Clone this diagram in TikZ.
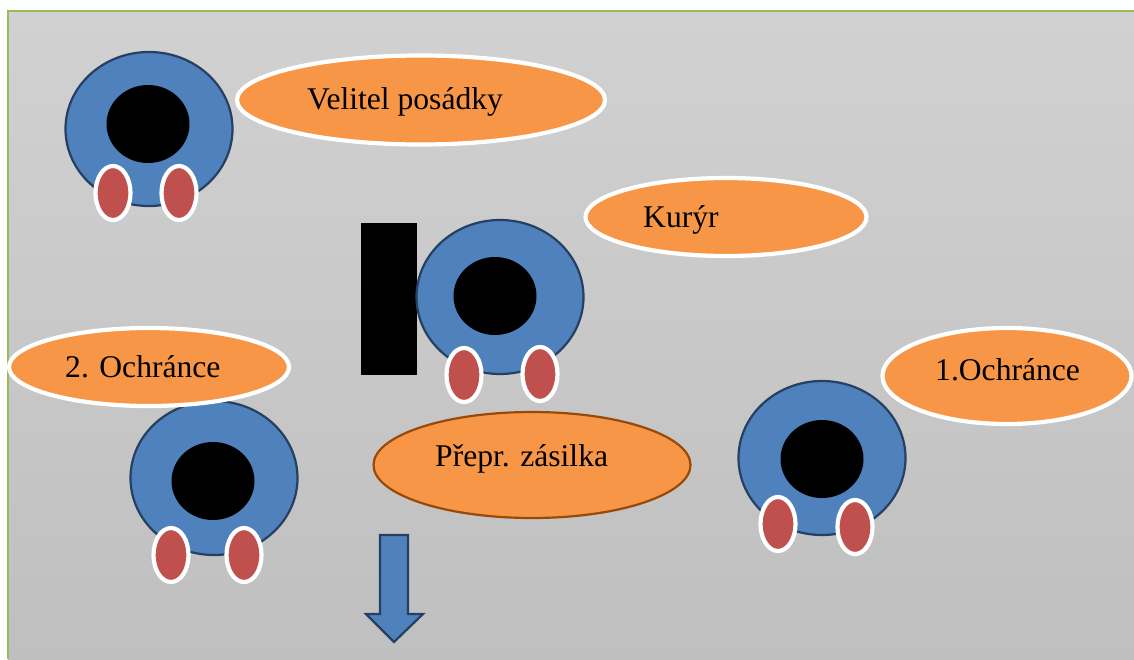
\documentclass[tikz,border=0pt]{standalone}
\usepackage{fontspec}
\setmainfont{Liberation Serif}
\usetikzlibrary{shapes.geometric}
\definecolor{headblue}{HTML}{4F81BD}
\definecolor{headline}{HTML}{254061}
\definecolor{handred}{HTML}{C0504D}
\definecolor{labelorange}{HTML}{F79646}
\definecolor{labelline}{HTML}{984807}
\definecolor{frameline}{HTML}{9BBB59}
\tikzset{
  oval/.style={ellipse,inner sep=0pt,outer sep=0pt},
  head/.style={oval,draw=headline,line width=2.2pt,fill=headblue},
  face/.style={oval,fill=black},
  hand/.style={oval,draw=white,line width=4.2pt,fill=handred,minimum width=35pt,minimum height=54pt},
  label/.style={oval,draw=white,line width=4.2pt,fill=labelorange},
  caption/.style={font=\fontsize{31.6}{32}\selectfont,anchor=base west,inner sep=0pt}
}
\begin{document}
\begin{tikzpicture}[x=1pt,y=-1pt]
\useasboundingbox (0,0) rectangle (1134,659);
\fill[white] (0,0) rectangle (1134,659);
\shade[top color=black!18,bottom color=black!25] (8,11) rectangle (1134,659);
\draw[frameline,line width=1.2pt] (8,659) -- (8,11) -- (1134,11);

\fill (361,223) rectangle (417,375);

\foreach \n/\x/\y/\fx/\fy/\lx/\ly/\rx/\ry in {
  a/149/129/148/124/113/193/179/193,
  b/500/297/495/296/464/375/540/374,
  c/214/478/213/481/171/555/244/555,
  d/822/458/822/459/778/524/855/527}{
  \node[head,minimum width=167pt,minimum height=154pt] (head\n) at (\x,\y) {};
  \node[face,minimum width=83pt,minimum height=78pt] (face\n) at (\fx,\fy) {};
  \node[hand] (left\n) at (\lx,\ly) {};
  \node[hand] (right\n) at (\rx,\ry) {};
}

\node[label,minimum width=368pt,minimum height=89pt] (velitel) at (421,100) {};
\node[label,minimum width=281pt,minimum height=78pt] (kuryr) at (726,217) {};
\node[label,minimum width=280pt,minimum height=78pt] (ochrance2) at (149,367) {};
\node[label,minimum width=249pt,minimum height=96pt] (ochrance1) at (1007,376) {};
\node[oval,draw=labelline,line width=2.2pt,fill=labelorange,minimum width=317pt,minimum height=106pt] (zasilka) at (532,465) {};

\node[caption] at (307,109) {Velitel posádky};
\node[caption] at (643,227) {Kurýr};
\node[caption] at (65,377) {2. Ochránce};
\node[caption] at (935,380) {1.Ochránce};
\node[caption] at (435,466) {Přepr. zásilka};

\filldraw[draw=headline,line width=2.2pt,fill=headblue] (380,535) -- (408,535) -- (408,614) -- (423,614) -- (394,642) -- (366,614) -- (380,614) -- cycle;
\end{tikzpicture}
\end{document}
